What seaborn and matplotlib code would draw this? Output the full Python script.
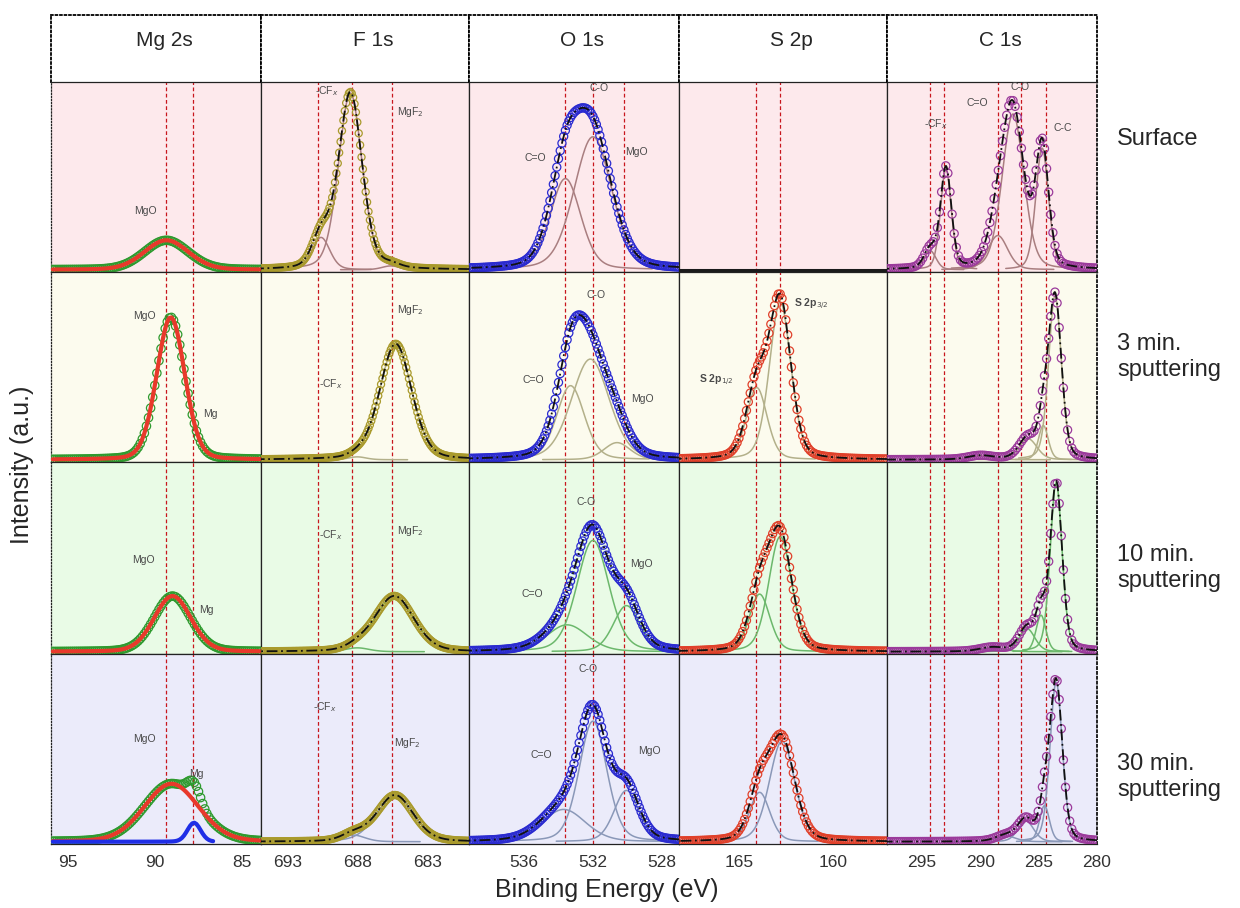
import numpy as np
import pandas as pd
import matplotlib
matplotlib.use("Agg")
import matplotlib.pyplot as plt
from matplotlib.ticker import MultipleLocator
import seaborn as sns

# --- Datos: picos ajustados (centro eV, altura relativa, FWHM eV) ---
ELEMENTOS = ["Mg 2s", "F 1s", "O 1s", "S 2p", "C 1s"]
FILAS = ["Surface", "3 min.\nsputtering", "10 min.\nsputtering", "30 min.\nsputtering"]

MG_MGO = [
    [(89.35, 0.155, 3.0)],
    [(89.1, 0.75, 1.9)],
    [(89.0, 0.29, 2.5)],
    [(89.06, 0.305, 3.7)],
]
MG_METAL = [[], [], [], [(87.76, 0.10, 0.9)]]

F_PICOS = [
    [(690.6, 0.17, 1.5), (688.5, 0.93, 2.0), (685.6, 0.02, 1.5)],
    [(688.0, 0.015, 1.5), (685.25, 0.61, 2.7)],
    [(688.0, 0.02, 2.0), (685.35, 0.29, 3.3)],
    [(688.3, 0.035, 2.0), (685.3, 0.245, 3.1)],
]
O_PICOS = [
    [(533.6, 0.48, 2.1), (532.0, 0.70, 2.6)],
    [(533.3, 0.39, 1.9), (532.15, 0.53, 2.6), (530.6, 0.09, 1.8)],
    [(533.5, 0.14, 2.8), (532.0, 0.58, 2.2), (530.05, 0.24, 1.8)],
    [(533.7, 0.17, 3.0), (532.0, 0.635, 1.9), (530.05, 0.27, 1.7)],
]
S_PICOS = [
    [],
    [(164.05, 0.38, 1.3), (162.8, 0.83, 1.35)],
    [(163.9, 0.30, 1.3), (162.8, 0.60, 1.45)],
    [(163.9, 0.26, 1.3), (162.7, 0.53, 1.6)],
]
C_PICOS = [
    [(294.3, 0.10, 1.2), (292.95, 0.53, 1.1), (288.5, 0.18, 2.0), (287.2, 0.82, 2.2), (284.7, 0.64, 1.3)],
    [(290.0, 0.02, 2.5), (285.9, 0.11, 1.8), (284.6, 0.18, 1.0), (283.6, 0.86, 1.3)],
    [(289.0, 0.02, 2.5), (286.0, 0.12, 1.6), (284.8, 0.19, 1.0), (283.5, 0.88, 1.2)],
    [(287.8, 0.03, 2.0), (286.1, 0.11, 1.6), (284.5, 0.19, 1.0), (283.5, 0.84, 1.25)],
]

# lineas de referencia (eV)
REF_MG = [89.4, 87.8]
REF_F = [690.8, 688.4, 685.5]
REF_O = [533.6, 532.0, 530.2]
REF_S = [164.1, 162.8]
REF_C = [294.3, 293.1, 288.5, 286.5, 284.4]

# etiquetas de picos: (texto, eV, fraccion de altura)
ETIQ_MG = [
    [("MgO", 90.57, 0.32)],
    [("MgO", 90.63, 0.77), ("Mg", 86.84, 0.25)],
    [("MgO", 90.67, 0.49), ("Mg", 87.03, 0.23)],
    [("MgO", 90.61, 0.55), ("Mg", 87.6, 0.37)],
]
ETIQ_F = [
    [("-CF$_x$", 690.2, 0.95), ("MgF$_2$", 684.2, 0.84)],
    [("-CF$_x$", 689.9, 0.41), ("MgF$_2$", 684.2, 0.80)],
    [("-CF$_x$", 689.9, 0.62), ("MgF$_2$", 684.2, 0.64)],
    [("-CF$_x$", 690.3, 0.72), ("MgF$_2$", 684.45, 0.53)],
]
ETIQ_O = [
    [("C=O", 535.37, 0.60), ("C-O", 531.63, 0.97), ("MgO", 529.46, 0.63)],
    [("C=O", 535.45, 0.43), ("C-O", 531.83, 0.88), ("MgO", 529.11, 0.33)],
    [("C=O", 535.5, 0.31), ("C-O", 532.4, 0.79), ("MgO", 529.2, 0.47)],
    [("C=O", 535.0, 0.47), ("C-O", 532.3, 0.92), ("MgO", 528.7, 0.49)],
]
ETIQ_S = [
    [],
    [("S 2p$_{1/2}$", 166.2, 0.43), ("S 2p$_{3/2}$", 161.13, 0.83)],
    [],
    [],
]
ETIQ_C = [
    [("-CF$_x$", 293.85, 0.78), ("C=O", 290.26, 0.89), ("C-O", 286.6, 0.975), ("C-C", 282.93, 0.76)],
    [], [], [],
]

# --- Estilo ---
sns.set_style("white")
plt.rcParams["font.family"] = ["Liberation Sans", "DejaVu Sans"]

W, H = 1240, 908
bordes_col = [51, 261, 469, 679, 887, 1097]
bordes_fila = [82, 272, 462, 654, 844]
rangos_x = [(96.0, 83.9), (694.9, 680.0), (539.2, 527.0), (168.2, 157.1), (298.0, 280.0)]
paso_mayor = [5, 5, 4, 5, 5]
desfase_mayor = [0, 3, 0, 0, 0]
fondos = ["#fde9ec", "#fcfbee", "#e9fbe6", "#ebebfa"]
col_comp = ["#a97e80", "#b3b08a", "#6cb86c", "#8a98b8"]
col_datos = ["#2e9a2e", "#a99a2c", "#2b2bd0", "#e0402a", "#9b3a9b"]
paso_datos = [0.12, 0.1, 0.1, 0.1, 0.18]
base = 0.012


def pv(x, c, h, w, eta=0.25):
    s = w / 2.3548
    g = np.exp(-(x - c) ** 2 / (2 * s * s))
    lo = 1.0 / (1.0 + ((x - c) / (w / 2)) ** 2)
    return h * ((1 - eta) * g + eta * lo)


fig = plt.figure(figsize=(W / 100, H / 100), dpi=100)

picos_col = [None, F_PICOS, O_PICOS, S_PICOS, C_PICOS]
refs_col = [REF_MG, REF_F, REF_O, REF_S, REF_C]
etiq_col = [ETIQ_MG, ETIQ_F, ETIQ_O, ETIQ_S, ETIQ_C]

for j, elem in enumerate(ELEMENTOS):
    x0, x1 = bordes_col[j], bordes_col[j + 1]
    # cabecera
    axh = fig.add_axes([x0 / W, 1 - bordes_fila[0] / H, (x1 - x0) / W, (bordes_fila[0] - 15) / H])
    axh.set_xticks([]); axh.set_yticks([])
    for lado in ["top", "left", "right"]:
        axh.spines[lado].set_linestyle((0, (1, 1.5)))
        axh.spines[lado].set_linewidth(1.3)
        axh.spines[lado].set_color("black")
    axh.spines["bottom"].set_visible(False)
    axh.text(0.54, 0.62, elem, transform=axh.transAxes, ha="center", va="center", fontsize=15)

    lo_e, hi_e = rangos_x[j]
    xs = np.arange(hi_e, lo_e + 1e-9, paso_datos[j])

    for i in range(4):
        y0, y1 = bordes_fila[i], bordes_fila[i + 1]
        ax = fig.add_axes([x0 / W, 1 - y1 / H, (x1 - x0) / W, (y1 - y0) / H])
        ax.set_facecolor(fondos[i])
        ax.set_xlim(lo_e, hi_e)
        ax.set_ylim(0, 1)
        ax.set_yticks([])
        ax.xaxis.set_major_locator(MultipleLocator(paso_mayor[j], offset=desfase_mayor[j]))
        ax.xaxis.set_minor_locator(MultipleLocator(1))
        ax.tick_params(axis="x", which="major", direction="out", length=5, width=0.8,
                       color="#333", labelsize=12.5, labelcolor="#333", pad=3)
        ax.tick_params(axis="x", which="minor", direction="out", length=3, width=0.7, color="#333")
        if i < 3:
            ax.tick_params(axis="x", which="both", labelbottom=False)
        for lado in ax.spines:
            ax.spines[lado].set_color("#222")
            ax.spines[lado].set_linewidth(0.9)
        if j == 0:
            ax.spines["left"].set_linestyle((0, (1, 1.5)))
        if j == 4:
            ax.spines["right"].set_linestyle((0, (1, 1.5)))
            ax.spines["right"].set_linewidth(1.4)

        for r in refs_col[j]:
            ax.axvline(r, color="#c8161d", lw=0.9, ls=(0, (3, 2)), zorder=1)

        trans = ax.get_xaxis_transform()
        for (txt, xe, yf) in etiq_col[j][i]:
            negrita = "bold" if j == 3 else "normal"
            ax.text(xe, yf, txt, transform=trans, ha="center", va="center",
                    fontsize=7.5, color="#4a4a4a", fontweight=negrita, zorder=5)

        if j == 0:
            mgo = sum((pv(xs, c, h, w, 0.15) for c, h, w in MG_MGO[i]), np.zeros_like(xs))
            met = sum((pv(xs, c, h, w, 0.1) for c, h, w in MG_METAL[i]), np.zeros_like(xs))
            env = mgo + met + base
            sns.scatterplot(x=xs, y=env, ax=ax, facecolors="none", edgecolor=col_datos[j],
                            s=36, linewidth=0.9, zorder=3)
            sns.lineplot(x=xs, y=mgo + base, ax=ax, color="#e8392b", lw=3, sort=False,
                         estimator=None, zorder=4)
            if MG_METAL[i]:
                m = xs >= 86.6
                sns.lineplot(x=xs[m], y=met[m] + base, ax=ax, color="#1f2ee6", lw=3,
                             sort=False, estimator=None, zorder=4)
            continue

        picos = picos_col[j][i]
        if not picos:
            sns.lineplot(x=[lo_e, hi_e], y=[base, base], ax=ax, color="#1a1a1a", lw=2.2,
                         sort=False, estimator=None, zorder=3)
            continue

        env = np.zeros_like(xs) + base
        for (c, h, w) in picos:
            env += pv(xs, c, h, w)
        sns.scatterplot(x=xs, y=env, ax=ax, facecolors="none", edgecolor=col_datos[j],
                        s=34 if j != 1 else 26, linewidth=0.9, zorder=3)
        for (c, h, w) in picos:
            xc = np.linspace(c + 2.4 * w, c - 2.4 * w, 120)
            sns.lineplot(x=xc, y=pv(xc, c, h, w) + base, ax=ax, color=col_comp[i], lw=1.1,
                         sort=False, estimator=None, zorder=2)
        xf = np.linspace(hi_e, lo_e, 300)
        envf = np.zeros_like(xf) + base
        for (c, h, w) in picos:
            envf += pv(xf, c, h, w)
        sns.lineplot(x=xf, y=envf, ax=ax, color="#111111", lw=1.3, ls=(0, (6, 2, 1, 2)),
                     sort=False, estimator=None, zorder=4)

# etiquetas de filas
centros_fila = [139, 357, 568, 777]
for txt, yc in zip(FILAS, centros_fila):
    fig.text(1117 / W, 1 - yc / H, txt, ha="left", va="center", fontsize=17, linespacing=1.25)

fig.text(607 / W, 1 - 890 / H, "Binding Energy (eV)", ha="center", va="center", fontsize=18)
fig.text(22 / W, 1 - 465 / H, "Intensity (a.u.)", ha="center", va="center", fontsize=18,
         rotation=90)

plt.savefig("out.png", dpi=100)
